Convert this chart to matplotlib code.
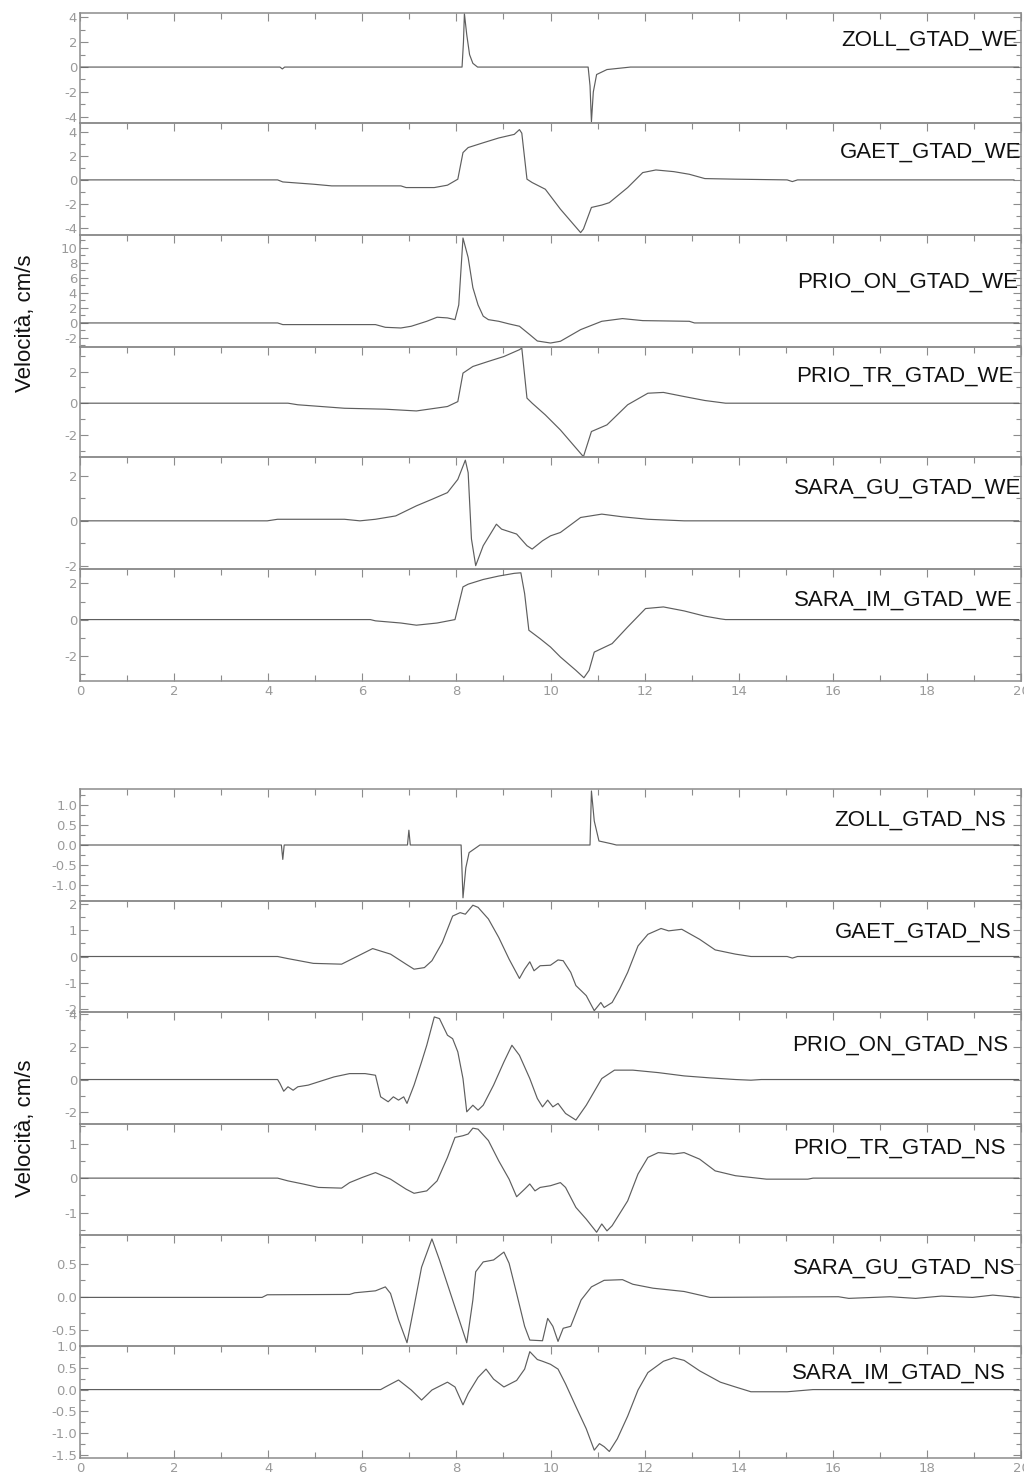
import matplotlib
matplotlib.use("Agg")
import matplotlib.pyplot as plt
from matplotlib.ticker import MultipleLocator, FormatStrFormatter

plt.rcParams['axes.unicode_minus'] = False

# ---------------- data (time in s, velocity in cm/s) ----------------
zoll_we_t = [0, 4.25, 4.3, 4.35, 8.12, 8.15, 8.17, 8.22, 8.28, 8.35, 8.45, 10.8, 10.84, 10.87, 10.91, 10.98, 11.2, 11.7, 19.95]
zoll_we_v = [0, 0, -0.15, 0, 0, 2.0, 4.3, 2.6, 1.0, 0.3, 0, 0, -1.5, -4.4, -2.0, -0.6, -0.2, 0, 0]

gaet_we_t = [0, 4.2, 4.31, 4.96, 5.35, 6.82, 6.93, 7.53, 7.81, 8.03, 8.14, 8.25, 8.57, 8.9, 9.23, 9.34, 9.39, 9.5, 9.61, 9.89,
             10.21, 10.64, 10.7, 10.87, 11.09, 11.25, 11.64, 11.96, 12.24, 12.62, 12.95, 13.28, 13.93, 15.03, 15.14, 15.25, 19.85]
gaet_we_v = [0, 0, -0.17, -0.36, -0.5, -0.5, -0.64, -0.64, -0.44, 0.06, 2.28, 2.7, 3.1, 3.5, 3.8, 4.2, 3.9, 0.06, -0.22, -0.78,
             -2.44, -4.4, -4.1, -2.3, -2.1, -1.9, -0.64, 0.61, 0.83, 0.69, 0.47, 0.11, 0.06, 0, -0.14, 0, 0]

prio_on_we_t = [0, 4.2, 4.31, 6.28, 6.49, 6.82, 7.04, 7.37, 7.59, 7.81, 7.97, 8.05, 8.14, 8.25, 8.35, 8.46, 8.57, 8.68, 8.9,
                9.12, 9.34, 9.56, 9.72, 10.0, 10.21, 10.64, 11.09, 11.53, 11.96, 12.95, 13.06, 19.95]
prio_on_we_v = [0, 0, -0.22, -0.22, -0.58, -0.67, -0.44, 0.22, 0.76, 0.67, 0.44, 2.4, 11.3, 8.7, 4.7, 2.4, 0.9, 0.44, 0.22,
                -0.13, -0.44, -1.56, -2.4, -2.67, -2.44, -0.89, 0.22, 0.58, 0.31, 0.22, 0, 0]

prio_tr_we_t = [0, 4.42, 4.63, 5.62, 6.49, 7.15, 7.81, 8.03, 8.14, 8.35, 8.68, 9.01, 9.34, 9.39, 9.5, 9.61, 9.89, 10.21, 10.7,
                10.87, 11.2, 11.64, 12.07, 12.4, 12.84, 13.28, 13.72, 19.95]
prio_tr_we_v = [0, 0, -0.1, -0.32, -0.38, -0.49, -0.21, 0.1, 1.9, 2.32, 2.64, 2.95, 3.38, 3.48, 0.32, 0.0, -0.74, -1.69, -3.38,
                -1.79, -1.37, -0.1, 0.63, 0.68, 0.42, 0.17, 0, 0]

sara_gu_we_t = [0, 3.98, 4.2, 5.62, 5.95, 6.28, 6.71, 7.15, 7.48, 7.81, 8.03, 8.14, 8.19, 8.25, 8.32, 8.41, 8.57, 8.85, 8.96,
                9.28, 9.5, 9.61, 9.83, 10.0, 10.21, 10.64, 11.09, 11.53, 12.07, 12.84, 19.95]
sara_gu_we_v = [0, 0, 0.07, 0.07, 0, 0.07, 0.22, 0.67, 0.96, 1.26, 1.85, 2.44, 2.71, 2.15, -0.81, -2.0, -1.11, -0.15, -0.37,
                -0.59, -1.11, -1.26, -0.89, -0.67, -0.52, 0.15, 0.3, 0.18, 0.07, 0, 0]

sara_im_we_t = [0, 6.17, 6.28, 6.82, 7.15, 7.59, 7.97, 8.14, 8.25, 8.57, 8.9, 9.23, 9.37, 9.45, 9.54, 9.78, 10.0, 10.21, 10.54,
                10.71, 10.82, 10.93, 11.31, 11.64, 12.02, 12.4, 12.84, 13.28, 13.61, 13.72, 19.95]
sara_im_we_v = [0, 0, -0.07, -0.19, -0.31, -0.19, 0, 1.81, 1.96, 2.22, 2.41, 2.56, 2.59, 1.44, -0.59, -1.06, -1.52, -2.07, -2.81,
                -3.22, -2.81, -1.8, -1.33, -0.41, 0.61, 0.7, 0.48, 0.19, 0.04, 0, 0]

zoll_ns_t = [0, 4.28, 4.31, 4.34, 6.96, 6.99, 7.02, 8.1, 8.14, 8.2, 8.27, 8.44, 8.5, 10.84, 10.87, 10.93, 11.03, 11.3, 11.4, 19.95]
zoll_ns_v = [0, 0, -0.36, 0, 0, 0.37, 0, 0, -1.32, -0.57, -0.19, -0.05, 0, 0, 1.35, 0.6, 0.1, 0.03, 0, 0]

gaet_ns_t = [0, 4.2, 4.42, 4.96, 5.56, 5.84, 6.22, 6.6, 6.93, 7.1, 7.32, 7.48, 7.7, 7.92, 8.08, 8.19, 8.35, 8.46, 8.68, 8.9,
             9.12, 9.34, 9.45, 9.56, 9.65, 9.78, 10.0, 10.16, 10.27, 10.43, 10.54, 10.76, 10.93, 11.07, 11.14, 11.31, 11.47,
             11.64, 11.86, 12.07, 12.35, 12.51, 12.79, 13.17, 13.5, 13.93, 14.26, 15.03, 15.14, 15.25, 19.95]
gaet_ns_v = [0, 0, -0.08, -0.26, -0.29, -0.04, 0.3, 0.09, -0.29, -0.48, -0.42, -0.16, 0.53, 1.53, 1.66, 1.6, 1.94, 1.86, 1.42, 0.72,
             -0.1, -0.83, -0.48, -0.2, -0.54, -0.35, -0.33, -0.13, -0.16, -0.6, -1.1, -1.48, -2.05, -1.74, -1.93, -1.74, -1.23,
             -0.6, 0.4, 0.84, 1.06, 0.97, 1.03, 0.65, 0.25, 0.09, 0, 0, -0.06, 0, 0]

prio_on_ns_t = [0, 4.2, 4.25, 4.33, 4.42, 4.53, 4.63, 4.85, 5.07, 5.4, 5.73, 6.06, 6.28, 6.33, 6.39, 6.55, 6.66, 6.77, 6.88,
                6.95, 7.1, 7.26, 7.37, 7.53, 7.64, 7.81, 7.92, 8.03, 8.14, 8.22, 8.35, 8.46, 8.57, 8.79, 9.01, 9.18, 9.34,
                9.56, 9.72, 9.83, 9.94, 10.05, 10.16, 10.32, 10.54, 10.76, 11.09, 11.36, 11.75, 12.29, 12.84, 13.39, 13.93,
                14.26, 14.48, 19.95]
prio_on_ns_v = [0, 0, -0.24, -0.71, -0.44, -0.65, -0.44, -0.34, -0.14, 0.16, 0.36, 0.36, 0.26, -0.34, -1.05, -1.35, -1.05, -1.25, -1.05,
                -1.45, -0.34, 1.07, 2.08, 3.8, 3.7, 2.69, 2.48, 1.68, 0.06, -1.96, -1.56, -1.86, -1.56, -0.34, 1.07, 2.08, 1.47,
                0.06, -1.15, -1.66, -1.25, -1.66, -1.45, -2.06, -2.46, -1.56, 0.06, 0.57, 0.57, 0.42, 0.22, 0.1, 0,
                -0.04, 0, 0]

prio_tr_ns_t = [0, 4.2, 4.42, 4.74, 5.07, 5.56, 5.73, 6.0, 6.28, 6.6, 6.93, 7.1, 7.37, 7.59, 7.81, 7.97, 8.14, 8.25, 8.35, 8.46,
                8.68, 8.9, 9.12, 9.28, 9.45, 9.56, 9.67, 9.78, 10.0, 10.21, 10.32, 10.54, 10.76, 10.98, 11.09, 11.2, 11.31,
                11.64, 11.86, 12.07, 12.29, 12.62, 12.84, 13.17, 13.5, 13.93, 14.59, 15.47, 15.58, 19.95]
prio_tr_ns_v = [0, 0, -0.08, -0.17, -0.27, -0.29, -0.13, 0.02, 0.16, -0.03, -0.32, -0.44, -0.37, -0.08, 0.6, 1.18, 1.23, 1.28, 1.45, 1.42,
                1.09, 0.5, -0.03, -0.54, -0.32, -0.17, -0.37, -0.27, -0.22, -0.13, -0.27, -0.85, -1.19, -1.57, -1.33, -1.53, -1.38,
                -0.66, 0.12, 0.6, 0.74, 0.7, 0.74, 0.55, 0.21, 0.07, -0.03, -0.03, 0, 0]

sara_gu_ns_t = [0, 3.87, 3.98, 5.73, 5.84, 6.28, 6.49, 6.6, 6.77, 6.95, 7.1, 7.26, 7.48, 7.64, 7.92, 8.22, 8.35, 8.41, 8.57,
                8.79, 9.01, 9.12, 9.28, 9.45, 9.56, 9.83, 9.94, 10.05, 10.16, 10.27, 10.43, 10.65, 10.87, 11.14, 11.53, 11.75,
                12.18, 12.84, 13.39, 16.12, 16.34, 17.22, 17.76, 18.31, 18.97, 19.4, 19.95]
sara_gu_ns_v = [-0.01, -0.01, 0.03, 0.035, 0.06, 0.09, 0.15, 0.05, -0.35, -0.7, -0.15, 0.45, 0.88, 0.56, -0.05, -0.7, -0.05, 0.38, 0.53,
                0.56, 0.68, 0.51, 0.05, -0.45, -0.66, -0.67, -0.33, -0.45, -0.68, -0.48, -0.45, -0.05, 0.15, 0.25, 0.26, 0.19,
                0.13, 0.08, -0.01, 0, -0.025, 0, -0.025, 0.01, -0.01, 0.025, -0.01]

sara_im_ns_t = [0, 6.39, 6.49, 6.77, 7.04, 7.26, 7.48, 7.81, 7.97, 8.14, 8.25, 8.46, 8.63, 8.79, 9.01, 9.28, 9.45, 9.56, 9.72,
                9.83, 10.0, 10.16, 10.32, 10.54, 10.76, 10.93, 11.04, 11.14, 11.25, 11.42, 11.64, 11.86, 12.07, 12.4, 12.62,
                12.84, 13.17, 13.61, 13.93, 14.26, 15.03, 15.58, 19.95]
sara_im_ns_v = [0, 0, 0.06, 0.22, -0.01, -0.24, -0.01, 0.17, 0.06, -0.35, -0.09, 0.28, 0.47, 0.24, 0.06, 0.21, 0.47, 0.87, 0.69,
                0.65, 0.58, 0.47, 0.13, -0.39, -0.9, -1.39, -1.24, -1.31, -1.42, -1.13, -0.61, -0.01, 0.39, 0.65, 0.73,
                0.67, 0.43, 0.17, 0.06, -0.05, -0.05, 0, 0]

we_names = ["ZOLL_GTAD_WE", "GAET_GTAD_WE", "PRIO_ON_GTAD_WE", "PRIO_TR_GTAD_WE", "SARA_GU_GTAD_WE", "SARA_IM_GTAD_WE"]
ns_names = ["ZOLL_GTAD_NS", "GAET_GTAD_NS", "PRIO_ON_GTAD_NS", "PRIO_TR_GTAD_NS", "SARA_GU_GTAD_NS", "SARA_IM_GTAD_NS"]
we_traces = [(zoll_we_t, zoll_we_v), (gaet_we_t, gaet_we_v), (prio_on_we_t, prio_on_we_v),
             (prio_tr_we_t, prio_tr_we_v), (sara_gu_we_t, sara_gu_we_v), (sara_im_we_t, sara_im_we_v)]
ns_traces = [(zoll_ns_t, zoll_ns_v), (gaet_ns_t, gaet_ns_v), (prio_on_ns_t, prio_on_ns_v),
             (prio_tr_ns_t, prio_tr_ns_v), (sara_gu_ns_t, sara_gu_ns_v), (sara_im_ns_t, sara_im_ns_v)]
x_ticks = [0, 2, 4, 6, 8, 10, 12, 14, 16, 18, 20]
y_label = "Velocità, cm/s"

# ---------------- layout / style ----------------
W, H = 1024, 1477
we_ylims = [(-4.5, 4.35), (-4.6, 4.75), (-3.2, 11.7), (-3.4, 3.55), (-2.15, 2.85), (-3.4, 2.8)]
ns_ylims = [(-1.4, 1.4), (-2.1, 2.1), (-2.7, 4.1), (-1.65, 1.57), (-0.75, 0.94), (-1.57, 1.0)]
we_ysteps = [(2, 1, "%d")] * 6
ns_ysteps = [(0.5, 0.25, "%.1f"), (1, 0.5, "%d"), (2, 1, "%d"), (1, 0.5, "%d"), (0.5, 0.25, "%.1f"), (0.5, 0.25, "%.1f")]
we_bounds = [13, 123, 235, 347, 457, 569, 681]
ns_bounds = [789, 901, 1012, 1124, 1235, 1346, 1458]
we_lab_dy = [27, 29, 47, 29, 31, 31]
ns_lab_dy = [31, 31, 33, 24, 33, 27]
we_lab_x = [1018, 1021, 1018, 1013, 1021, 1013]
ns_lab_x = [1006, 1011, 1008, 1006, 1015, 1006]

LEFT, RIGHT = 80, 1021
spine_c = "#8c8c8c"
tick_c = "#9a9a9a"
line_c = "#5e5e5e"
tick_font = ["Liberation Sans Narrow", "DejaVu Sans"]
lab_font = ["Liberation Sans", "DejaVu Sans"]

fig = plt.figure(figsize=(W / 100, H / 100), dpi=100)


def draw_group(names, traces, ylims, ysteps, bounds, lab_dy, lab_x):
    n = len(names)
    for i in range(n):
        top, bot = bounds[i], bounds[i + 1]
        ax = fig.add_axes([LEFT / W, 1 - bot / H, (RIGHT - LEFT) / W, (bot - top) / H])
        t, v = traces[i]
        ax.plot(t, v, color=line_c, lw=0.85)
        ax.set_xlim(0, 20)
        ax.set_ylim(*ylims[i])
        maj, mnr, fmt = ysteps[i]
        ax.yaxis.set_major_locator(MultipleLocator(maj))
        ax.yaxis.set_minor_locator(MultipleLocator(mnr))
        ax.yaxis.set_major_formatter(FormatStrFormatter(fmt))
        ax.set_xticks(x_ticks)
        ax.xaxis.set_minor_locator(MultipleLocator(1))
        last = (i == n - 1)
        ax.tick_params(axis="x", which="both", direction="in", top=True, bottom=last,
                       labelbottom=last, color=spine_c, labelcolor=tick_c, labelsize=9.5, pad=3)
        ax.tick_params(axis="x", which="major", length=6, width=0.8)
        ax.tick_params(axis="x", which="minor", length=4, width=0.8)
        ax.tick_params(axis="y", which="both", direction="in", left=True, right=True,
                       color=spine_c, labelcolor=tick_c, labelsize=9.5, pad=2)
        ax.tick_params(axis="y", which="major", length=6, width=0.8)
        ax.tick_params(axis="y", which="minor", length=3.5, width=0.8)
        for lbl in ax.get_xticklabels() + ax.get_yticklabels():
            lbl.set_fontfamily(tick_font)
        for s in ax.spines.values():
            s.set_color(spine_c)
            s.set_linewidth(1.1)
        ax.patch.set_alpha(0)
        fig.text(lab_x[i] / W, 1 - (top + lab_dy[i]) / H, names[i], ha="right", va="center",
                 fontsize=16, color="#111111", family=lab_font)
    yc = (bounds[0] + bounds[-1]) / 2
    return yc


yc1 = draw_group(we_names, we_traces, we_ylims, we_ysteps, we_bounds, we_lab_dy, we_lab_x)
yc2 = draw_group(ns_names, ns_traces, ns_ylims, ns_ysteps, ns_bounds, ns_lab_dy, ns_lab_x)

fig.text(25 / W, 1 - (yc1 - 24) / H, y_label, rotation=90, ha="center", va="center",
         fontsize=16, color="#111111", family=lab_font)
fig.text(25 / W, 1 - (yc2 + 5) / H, y_label, rotation=90, ha="center", va="center",
         fontsize=16, color="#111111", family=lab_font)

fig.savefig("out.png", dpi=100, facecolor="white")
